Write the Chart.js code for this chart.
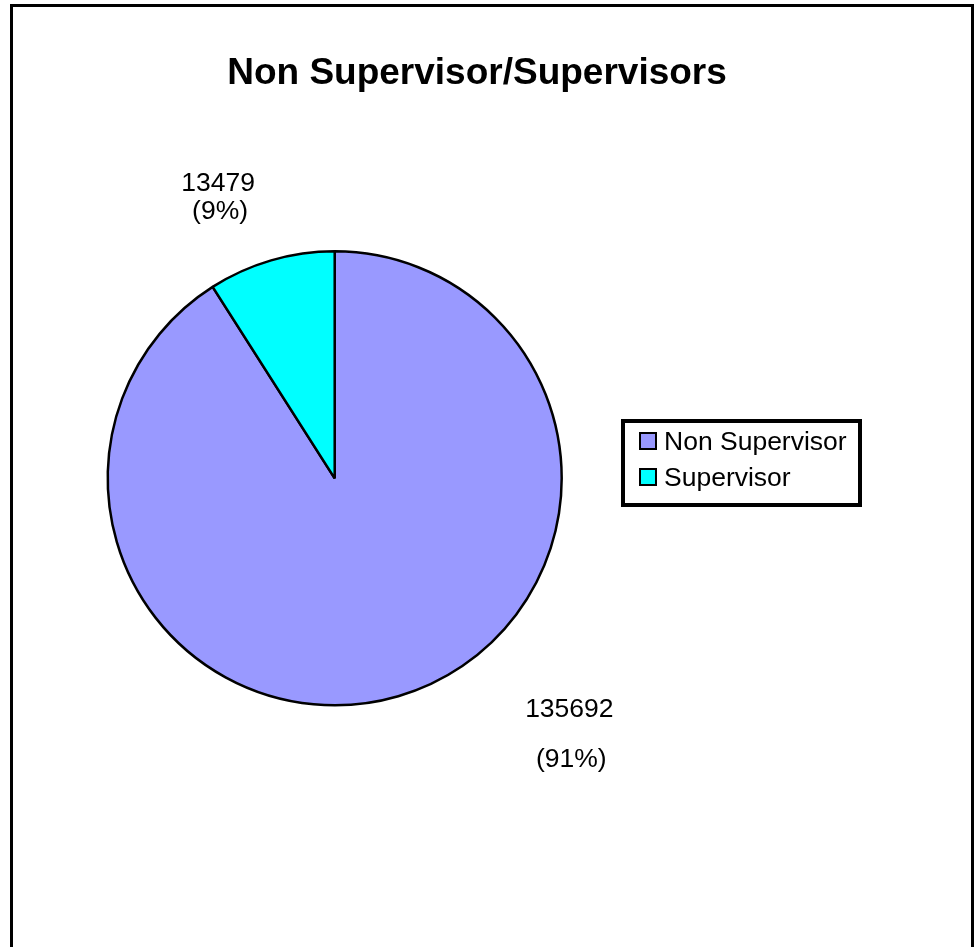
<!DOCTYPE html>
<html>
<head>
<meta charset="utf-8">
<script src="https://cdn.jsdelivr.net/npm/chart.js@4.4.0/dist/chart.umd.min.js"></script>
<style>
  html, body { margin: 0; padding: 0; background: #fff; }
  #wrap { width: 978px; height: 947px; }
</style>
</head>
<body>
<div id="wrap"><canvas id="chart" width="978" height="947"></canvas></div>
<script>
const chartTitle = 'Non Supervisor/Supervisors';
const categories = ['Non Supervisor', 'Supervisor'];
const headcount = [135692, 13479];
const sliceColors = ['#9999FF', '#00FFFF'];

const FONT = '"Liberation Sans", Arial, sans-serif';

// frame, title, excel-style legend box and data labels
const decorations = {
  id: 'decorations',
  afterDraw(chart) {
    const ctx = chart.ctx;
    const meta = chart.getDatasetMeta(0);
    const data = chart.data.datasets[0].data;
    const total = data.reduce((a, b) => a + b, 0);
    ctx.save();

    // outer frame (open at bottom, runs off the page)
    ctx.strokeStyle = '#000';
    ctx.lineWidth = 3;
    ctx.beginPath();
    ctx.moveTo(11.5, 960);
    ctx.lineTo(11.5, 5.5);
    ctx.lineTo(972.5, 5.5);
    ctx.lineTo(972.5, 960);
    ctx.stroke();

    // title
    ctx.fillStyle = '#000';
    ctx.font = 'bold 37px ' + FONT;
    ctx.textAlign = 'center';
    ctx.textBaseline = 'alphabetic';
    ctx.fillText(chartTitle, 477, 84);

    // data labels, anchored off each slice's mid angle
    const nudges = [
      { dx: 152, dy: -45, gap: 50 },
      { dx: -34, dy: -4, gap: 28 }
    ];
    ctx.font = '26.5px ' + FONT;
    meta.data.forEach((arc, i) => {
      const mid = (arc.startAngle + arc.endAngle) / 2;
      const r = arc.outerRadius * 1.3;
      const x = arc.x + Math.cos(mid) * r + nudges[i].dx;
      const y = arc.y + Math.sin(mid) * r + nudges[i].dy;
      const pct = Math.round(data[i] / total * 100) + '%';
      ctx.fillText(String(data[i]), x, y);
      ctx.fillText('(' + pct + ')', x + 2, y + nudges[i].gap);
    });

    // legend box
    ctx.lineWidth = 4;
    ctx.strokeRect(623, 421, 237, 84);
    ctx.textAlign = 'left';
    chart.data.labels.forEach((lab, i) => {
      const top = 433 + i * 36;
      ctx.fillStyle = chart.data.datasets[0].backgroundColor[i];
      ctx.fillRect(640, top, 16, 16);
      ctx.lineWidth = 2;
      ctx.strokeStyle = '#000';
      ctx.strokeRect(640, top, 16, 16);
      ctx.fillStyle = '#000';
      ctx.fillText(lab, 664, top + 17);
    });

    ctx.restore();
  }
};

new Chart(document.getElementById('chart').getContext('2d'), {
  type: 'pie',
  data: {
    labels: categories,
    datasets: [{
      data: headcount,
      backgroundColor: sliceColors,
      borderColor: '#000',
      borderWidth: 2.5
    }]
  },
  options: {
    responsive: false,
    animation: false,
    events: [],
    radius: 227,
    layout: { padding: { left: 100, right: 408.6, top: 240, bottom: 230.4 } },
    plugins: {
      legend: { display: false },
      title: { display: false },
      tooltip: { enabled: false }
    }
  },
  plugins: [decorations]
});
</script>
</body>
</html>
